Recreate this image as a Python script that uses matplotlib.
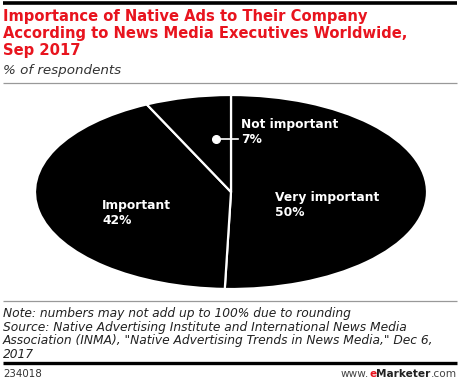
import matplotlib
matplotlib.use("Agg")
import matplotlib.pyplot as plt
from matplotlib.lines import Line2D

# ---- data ----
categories = ["Very important", "Important", "Not important"]
values = [50, 42, 7]
title_lines = ["Importance of Native Ads to Their Company",
               "According to News Media Executives Worldwide,",
               "Sep 2017"]
subtitle = "% of respondents"
notes = ["Note: numbers may not add up to 100% due to rounding",
         "Source: Native Advertising Institute and International News Media",
         "Association (INMA), \"Native Advertising Trends in News Media,\" Dec 6,",
         "2017"]
chart_id = "234018"

W, H = 460, 381
fig = plt.figure(figsize=(W / 100, H / 100), dpi=100)
fig.patch.set_facecolor("white")

def fx(x):
    return x / W

def fy(y):
    return 1 - y / H

def hline(y, lw, color, x0=3, x1=457):
    fig.add_artist(Line2D([fx(x0), fx(x1)], [fy(y), fy(y)], lw=lw, color=color,
                          transform=fig.transFigure, solid_capstyle="butt"))

FONT = "DejaVu Sans"
RED = "#e8141e"

# header
hline(3, 2.6, "black")
for i, t in enumerate(title_lines):
    fig.text(fx(3), fy(21 + 17 * i), t, color=RED, fontsize=10.65, fontweight="bold",
             family=FONT, va="baseline", ha="left")
fig.text(fx(3), fy(74), subtitle, color="#333333", fontsize=9.7, style="italic",
         family=FONT, va="baseline", ha="left")
hline(82.5, 0.9, "#999999")

# pie (elliptical)
ax = fig.add_axes([fx(35), fy(289), (427 - 35) / W, (289 - 95) / H])
ax.pie(values, startangle=90, counterclock=False, colors=["black"] * len(values),
       wedgeprops=dict(edgecolor="white", linewidth=1.6))
ax.set_aspect("auto")
ax.set_xlim(-1, 1)
ax.set_ylim(-1, 1)
ax.axis("off")

lab_kw = dict(color="white", fontsize=8.8, fontweight="bold", family=FONT,
              va="baseline", ha="left")
fig.text(fx(275), fy(201), categories[0], **lab_kw)
fig.text(fx(275), fy(216), f"{values[0]}%", **lab_kw)
fig.text(fx(102), fy(209), categories[1], **lab_kw)
fig.text(fx(102), fy(224), f"{values[1]}%", **lab_kw)
fig.text(fx(241), fy(128), categories[2], **lab_kw)
fig.text(fx(241), fy(143), f"{values[2]}%", **lab_kw)
fig.add_artist(Line2D([fx(216), fx(238)], [fy(139), fy(139)], lw=1.2, color="white",
                      transform=fig.transFigure))
fig.add_artist(Line2D([fx(216)], [fy(139)], marker="o", markersize=5.5, color="white",
                      transform=fig.transFigure))

# footer
hline(301, 0.9, "#999999")
for i, t in enumerate(notes):
    fig.text(fx(3), fy(317 + 13.7 * i), t, color="#222222", fontsize=8.85, style="italic",
             family=FONT, va="baseline", ha="left")
hline(363, 2.4, "black")
fig.text(fx(3), fy(377), chart_id, color="#333333", fontsize=7.4, family=FONT,
         va="baseline", ha="left")

# www.eMarketer.com, right aligned
pieces = [("www.", "#444444", "normal"), ("e", RED, "bold"),
          ("Marketer", "#222222", "bold"), (".com", "#444444", "normal")]
fig.canvas.draw()
r = fig.canvas.get_renderer()
x_right = 457
for txt, col, wt in reversed(pieces):
    t = fig.text(fx(x_right), fy(377), txt, color=col, fontsize=7.6, fontweight=wt,
                 family=FONT, va="baseline", ha="right")
    bb = t.get_window_extent(renderer=r)
    x_right -= bb.width

fig.savefig("out.png", dpi=100, facecolor="white")
